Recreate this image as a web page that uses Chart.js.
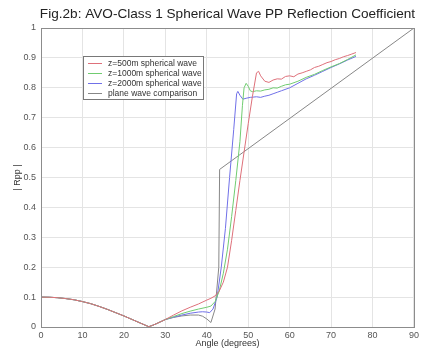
<!DOCTYPE html>
<html>
<head>
<meta charset="utf-8">
<script src="https://cdn.jsdelivr.net/npm/chart.js@4.4.1/dist/chart.umd.min.js"></script>
<style>
  html, body { margin: 0; padding: 0; background: #fff; }
  #wrap { width: 422px; height: 349px; }
</style>
</head>
<body>
<div id="wrap"><canvas id="rpp-chart" width="422" height="349"></canvas></div>
<script>
const TITLE = 'Fig.2b: AVO-Class 1 Spherical Wave PP Reflection Coefficient';
const seriesLabels = ['z=500m spherical wave', 'z=1000m spherical wave', 'z=2000m spherical wave', 'plane wave comparison'];
const seriesColors = ['rgb(222,112,122)', 'rgb(112,204,112)', 'rgb(112,112,232)', 'rgb(135,135,135)'];

// pre-critical part, identical for all four curves
const angleCommon = [0, 2, 4, 6, 8, 10, 12, 14, 16, 18, 20, 22, 24, 26, 27, 28, 30];
const rppCommon = [0.100, 0.0995, 0.098, 0.095, 0.091, 0.085, 0.078, 0.069, 0.059, 0.048, 0.037, 0.025, 0.013, 0.001, 0.006, 0.012, 0.025];

const angle500 = [32, 34, 36, 38, 40, 41, 42, 43, 44, 45, 46, 47, 48, 49, 50, 51, 52, 52.5, 53, 54, 55, 56, 57, 58, 59, 60, 61, 62, 63, 64, 65, 66, 67, 68, 69, 70, 71, 72, 73, 74, 75, 76];
const rpp500 = [0.040, 0.054, 0.066, 0.077, 0.090, 0.096, 0.104, 0.120, 0.150, 0.200, 0.290, 0.390, 0.490, 0.585, 0.680, 0.770, 0.850, 0.855, 0.840, 0.822, 0.818, 0.826, 0.830, 0.829, 0.838, 0.840, 0.837, 0.846, 0.850, 0.855, 0.860, 0.868, 0.872, 0.878, 0.884, 0.888, 0.894, 0.898, 0.904, 0.908, 0.913, 0.918];

const angle1000 = [32, 34, 36, 38, 40, 41, 42, 43, 44, 45, 46, 47, 48, 48.6, 49, 49.5, 50, 50.5, 51, 52, 53, 54, 55, 56, 57, 58, 59, 60, 62, 64, 66, 68, 70, 72, 74, 76];
const rpp1000 = [0.035, 0.045, 0.053, 0.060, 0.066, 0.070, 0.085, 0.120, 0.180, 0.260, 0.370, 0.490, 0.620, 0.740, 0.800, 0.815, 0.805, 0.790, 0.787, 0.790, 0.789, 0.793, 0.795, 0.800, 0.799, 0.805, 0.810, 0.812, 0.822, 0.835, 0.845, 0.858, 0.870, 0.881, 0.895, 0.910];

const angle2000 = [32, 34, 36, 38, 39, 40, 40.7, 41.5, 42.5, 43.5, 44.5, 45.5, 46.5, 47.2, 47.5, 48, 48.7, 49.5, 50.5, 52, 53, 54, 55, 56, 57, 58, 60, 62, 64, 66, 68, 70, 72, 74, 76];
const rpp2000 = [0.033, 0.040, 0.046, 0.050, 0.051, 0.050, 0.048, 0.060, 0.100, 0.200, 0.330, 0.500, 0.660, 0.780, 0.788, 0.775, 0.762, 0.765, 0.768, 0.770, 0.768, 0.772, 0.775, 0.780, 0.785, 0.790, 0.800, 0.815, 0.830, 0.842, 0.855, 0.868, 0.880, 0.893, 0.905];

const anglePlane = [32, 34, 36, 38, 39, 40, 41, 42, 42.9, 43.1, 90];
const rppPlane = [0.032, 0.037, 0.040, 0.040, 0.036, 0.027, 0.015, 0.060, 0.200, 0.527, 1.000];

const xTicks = [0, 10, 20, 30, 40, 50, 60, 70, 80, 90];
const yTicks = [0, 0.1, 0.2, 0.3, 0.4, 0.5, 0.6, 0.7, 0.8, 0.9, 1];

function toPoints(angles, values) {
  const pts = angleCommon.map((a, i) => ({ x: a, y: rppCommon[i] }));
  angles.forEach((a, i) => pts.push({ x: a, y: values[i] }));
  return pts;
}

const FONT = '"Liberation Sans", Arial, sans-serif';

// title over the plot box and the boxed legend in the upper left
const decorations = {
  id: 'decorations',
  afterDraw(chart) {
    const { ctx, chartArea: a } = chart;
    ctx.save();
    ctx.lineWidth = 1;
    ctx.strokeStyle = 'rgb(140,140,140)';
    ctx.strokeRect(Math.round(a.left) + 0.5, Math.round(a.top) + 0.5, Math.round(a.right - a.left), Math.round(a.bottom - a.top));

    ctx.fillStyle = '#222';
    ctx.font = '13.6px ' + FONT;
    ctx.textAlign = 'center';
    ctx.textBaseline = 'middle';
    ctx.fillText(TITLE, (a.left + a.right) / 2, 14);

    const bx = 83, by = 56, bw = 120, bh = 43;
    ctx.fillStyle = '#fff';
    ctx.fillRect(bx, by, bw, bh);
    ctx.strokeStyle = 'rgb(120,120,120)';
    ctx.strokeRect(bx + 0.5, by + 0.5, bw, bh);
    ctx.font = '8.5px ' + FONT;
    ctx.textAlign = 'left';
    chart.data.datasets.forEach((ds, i) => {
      const y = by + 7 + i * 10;
      ctx.strokeStyle = seriesColors[i];
      ctx.beginPath();
      ctx.moveTo(88, y + 0.5);
      ctx.lineTo(102, y + 0.5);
      ctx.stroke();
      ctx.fillStyle = '#333';
      ctx.fillText(ds.label, 108, y + 0.5);
    });
    ctx.restore();
  }
};

new Chart(document.getElementById('rpp-chart'), {
  type: 'line',
  data: {
    datasets: [
      { label: seriesLabels[0], data: toPoints(angle500, rpp500), borderColor: seriesColors[0] },
      { label: seriesLabels[1], data: toPoints(angle1000, rpp1000), borderColor: seriesColors[1] },
      { label: seriesLabels[2], data: toPoints(angle2000, rpp2000), borderColor: seriesColors[2] },
      { label: seriesLabels[3], data: toPoints(anglePlane, rppPlane), borderColor: seriesColors[3] }
    ].map(ds => Object.assign(ds, { borderWidth: 1, pointRadius: 0, tension: 0, fill: false }))
  },
  options: {
    responsive: false,
    animation: false,
    layout: { padding: { top: 28, right: 3, left: 0, bottom: 0 } },
    plugins: { legend: { display: false }, title: { display: false }, tooltip: { enabled: false } },
    scales: {
      x: {
        type: 'linear', min: 0, max: 90,
        afterBuildTicks: s => { s.ticks = xTicks.map(v => ({ value: v })); },
        afterFit: s => { s.height = 22; },
        grid: { color: 'rgb(228,228,228)', drawTicks: false },
        border: { display: false },
        ticks: { color: '#555', font: { size: 9, family: FONT }, padding: 3, maxRotation: 0 },
        title: { display: true, text: 'Angle (degrees)', color: '#333', font: { size: 9, family: FONT }, padding: 0 }
      },
      y: {
        type: 'linear', min: 0, max: 1,
        afterBuildTicks: s => { s.ticks = yTicks.map(v => ({ value: v })); },
        afterFit: s => { s.width = 41; },
        grid: { color: 'rgb(228,228,228)', drawTicks: false },
        border: { display: false },
        ticks: { color: '#555', font: { size: 9, family: FONT }, padding: 5, callback: v => String(+v.toFixed(1)) },
        title: { display: true, text: '| Rpp |', color: '#333', font: { size: 9, family: FONT }, padding: { top: 12, bottom: 0 } }
      }
    }
  },
  plugins: [decorations]
});
</script>
</body>
</html>
